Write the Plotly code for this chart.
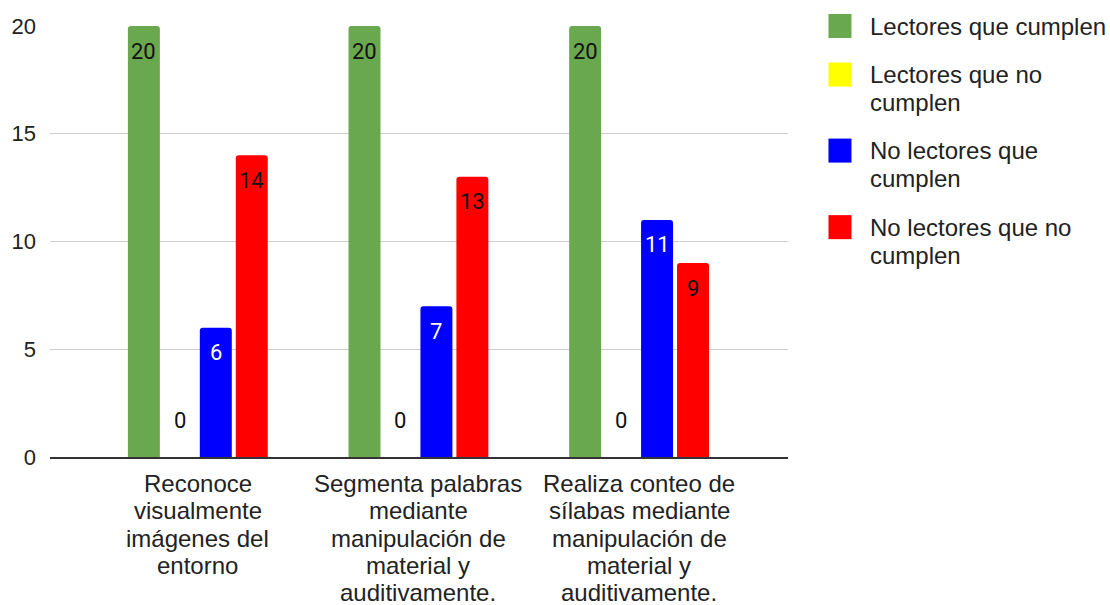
import plotly.graph_objects as go

# Chart data
categories = [
    "Reconoce visualmente imágenes del entorno",
    "Segmenta palabras mediante manipulación de material y auditivamente.",
    "Realiza conteo de sílabas mediante manipulación de material y auditivamente.",
]
category_lines = [
    ["Reconoce", "visualmente", "imágenes del", "entorno"],
    ["Segmenta palabras", "mediante", "manipulación de", "material y", "auditivamente."],
    ["Realiza conteo de", "sílabas mediante", "manipulación de", "material y", "auditivamente."],
]
series_names = [
    "Lectores que cumplen",
    "Lectores que no cumplen",
    "No lectores que cumplen",
    "No lectores que no cumplen",
]
legend_lines = [
    ["Lectores que cumplen"],
    ["Lectores que no", "cumplen"],
    ["No lectores que", "cumplen"],
    ["No lectores que no", "cumplen"],
]
lectores_cumplen = [20, 20, 20]
lectores_no_cumplen = [0, 0, 0]
no_lectores_cumplen = [6, 7, 11]
no_lectores_no_cumplen = [14, 13, 9]
y_ticks = [0, 5, 10, 15, 20]

series_values = [lectores_cumplen, lectores_no_cumplen, no_lectores_cumplen, no_lectores_no_cumplen]
colors = ["#6aa84f", "#ffff00", "#0000ff", "#ff0000"]
label_colors = ["#111111", "#111111", "#ffffff", "#111111"]

# Geometry of the figure (pixels)
W, H = 1110, 605
PLOT_L, PLOT_R, PLOT_T, PLOT_B = 50, 788.5, 26, 456.7
BARGAP, BARGROUPGAP = 0.348, 0.111
LINE_STEP = 27.3          # spacing of wrapped text lines
CAT_FIRST_LINE = 483.3    # centre of the first category-label line

AXIS_FONT = "Arial, Liberation Sans, sans-serif"
LABEL_FONT = "Roboto, Arial, sans-serif"

fig = go.Figure()
for name, vals, col in zip(series_names, series_values, colors):
    fig.add_trace(go.Bar(
        x=list(range(len(categories))),
        y=vals,
        name=name,
        marker=dict(color=col, line=dict(width=0), cornerradius=3),
        showlegend=False,
        hovertext=categories,
    ))

pw = PLOT_R - PLOT_L
ph = PLOT_B - PLOT_T


def px_x(px):
    return (px - PLOT_L) / pw


def px_y(py):
    return (PLOT_B - py) / ph


# Value labels, centred on each bar of the group
n = len(series_names)
slot = (1 - BARGAP) / n
annotations = []
for i, (vals, lc) in enumerate(zip(series_values, label_colors)):
    offset = -(1 - BARGAP) / 2 + slot * (i + 0.5)
    for j, v in enumerate(vals):
        annotations.append(dict(
            x=j + offset, y=v, xref="x", yref="y",
            text=str(v), showarrow=False,
            xanchor="center", yanchor="middle",
            yshift=37 if v == 0 else -25,
            font=dict(family=LABEL_FONT, size=22, color=lc),
        ))

# Wrapped category labels under the axis
for j, lines in enumerate(category_lines):
    for k, line in enumerate(lines):
        annotations.append(dict(
            x=j, y=px_y(CAT_FIRST_LINE + LINE_STEP * k), xref="x", yref="paper",
            text=line, showarrow=False, xanchor="center", yanchor="middle",
            font=dict(family=AXIS_FONT, size=24, color="#222222"),
        ))

# Legend drawn as squares and text in paper coordinates
legend_centers = [26, 74.5, 150.5, 227]
shapes = []
for col, cy, lines in zip(colors, legend_centers, legend_lines):
    shapes.append(dict(
        type="rect", xref="paper", yref="paper",
        x0=px_x(829), x1=px_x(852), y0=px_y(cy + 12), y1=px_y(cy - 12),
        fillcolor=col, line=dict(width=0), layer="above",
    ))
    for k, line in enumerate(lines):
        annotations.append(dict(
            x=px_x(869), y=px_y(cy + 28 * k), xref="paper", yref="paper",
            text=line, showarrow=False, xanchor="left", yanchor="middle",
            font=dict(family=AXIS_FONT, size=24, color="#222222"),
        ))

fig.update_layout(
    width=W, height=H,
    margin=dict(l=PLOT_L, r=W - PLOT_R, t=PLOT_T, b=H - PLOT_B, pad=0),
    paper_bgcolor="white", plot_bgcolor="white",
    barmode="group", bargap=BARGAP, bargroupgap=BARGROUPGAP,
    font=dict(family=AXIS_FONT, color="#222222"),
    annotations=annotations, shapes=shapes,
    showlegend=False,
)
fig.update_xaxes(
    range=[-0.670, 2.675], automargin=False,
    tickmode="array", tickvals=list(range(len(categories))), showticklabels=False,
    showline=True, linecolor="#333333", linewidth=1.5,
    showgrid=False, zeroline=False, ticks="",
)
fig.update_yaxes(
    range=[0, 20], tickmode="array", tickvals=y_ticks, automargin=False,
    tickfont=dict(family=AXIS_FONT, size=22, color="#222222"),
    showgrid=True, gridcolor="#cccccc", gridwidth=1,
    zeroline=False, showline=False, ticks="", ticklabelstandoff=13,
)

fig.write_html("out.html")
